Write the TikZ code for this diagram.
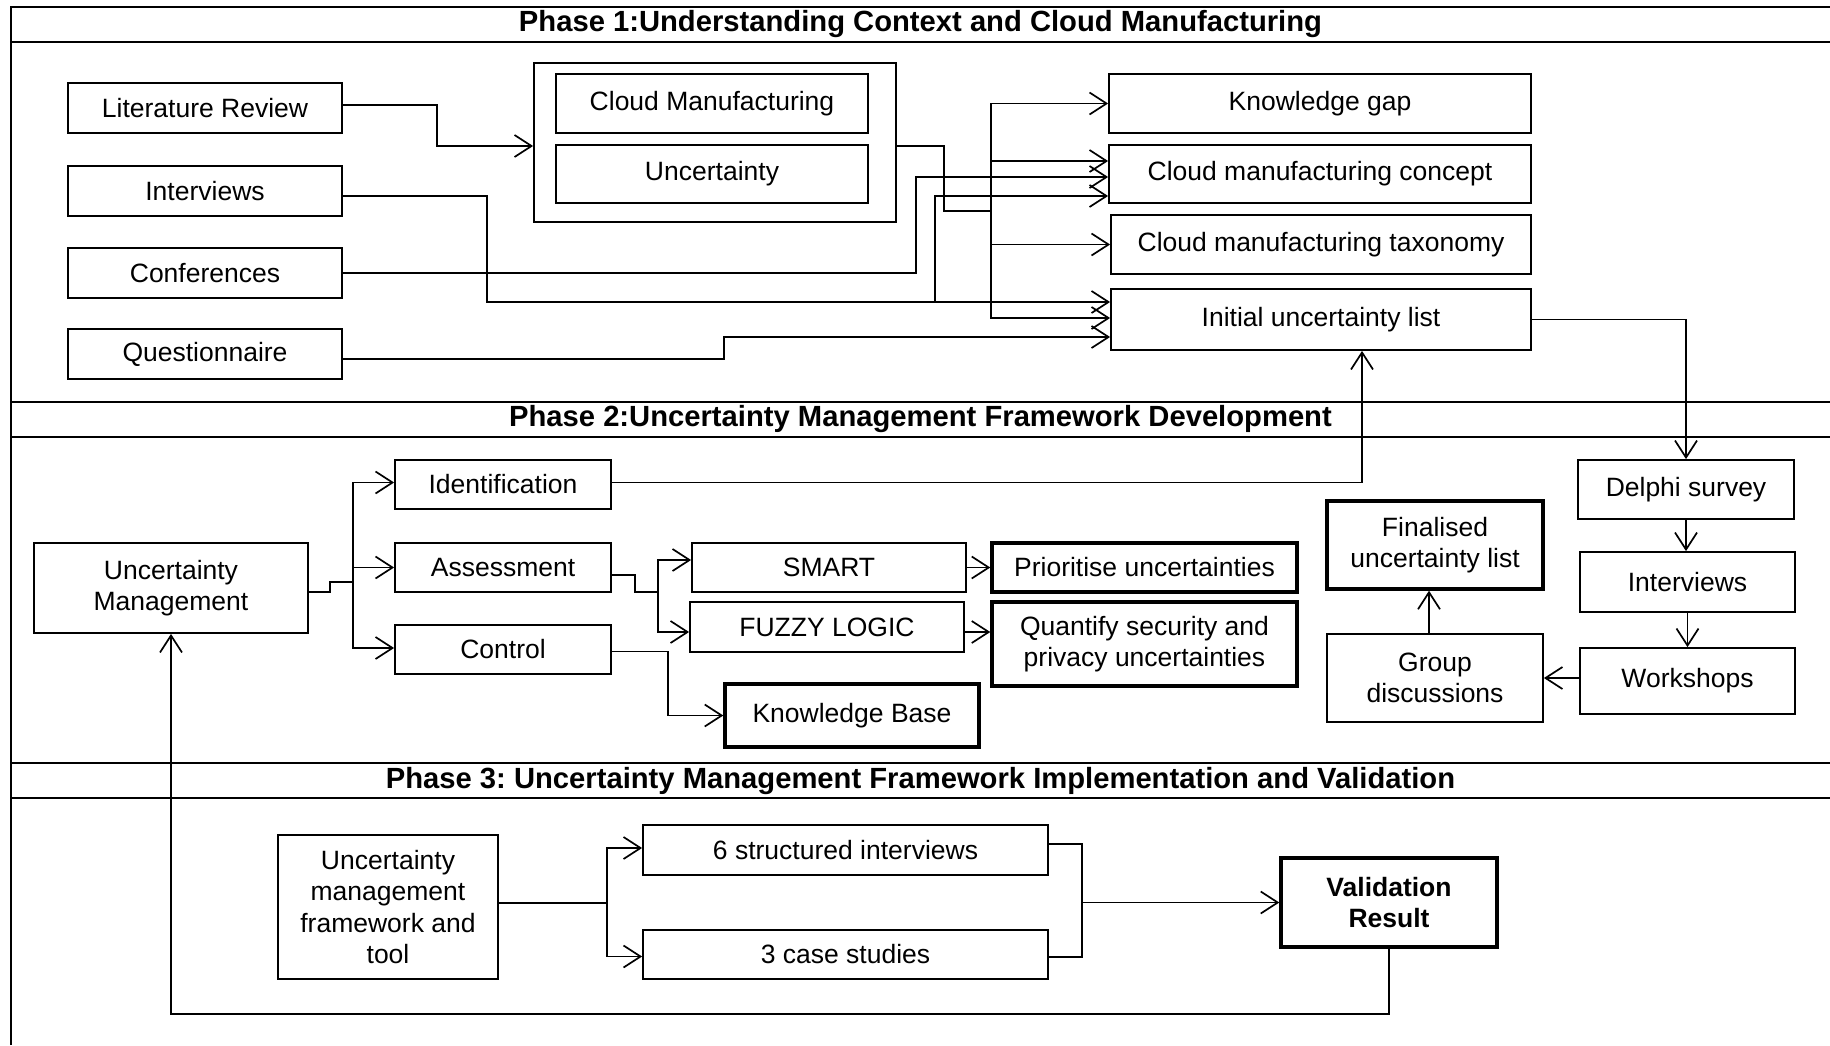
\documentclass[tikz,border=0pt]{standalone}
\usepackage{fontspec}
\setmainfont{Liberation Sans}
\frenchspacing
\usetikzlibrary{arrows.meta,calc}
\tikzset{
  box/.style={draw=black,line width=0.9pt,rectangle,inner sep=0pt,align=center,font=\fontsize{13.25}{15.7}\selectfont},
  heavy/.style={line width=1.7pt},
  arr/.style={-{Straight Barb[length=8.5pt,width=11pt]}},
  conn/.style={line width=0.85pt},
  title/.style={font=\fontsize{14.6}{17}\selectfont\bfseries,inner sep=0pt},
  frame/.style={line width=1.1pt}
}
\newcommand{\bx}[7][]{%
  \node[box,#1,minimum width={(#5-#3)*0.5pt},minimum height={(#6-#4)*0.5pt}] (#2) at ({(#3+#5)/2},{(#4+#6)/2}) {#7};}
\begin{document}
\begin{tikzpicture}[x=0.5pt,y=-0.5pt]
\useasboundingbox (0,0) rectangle (1830,1045);
\fill[white] (0,0) rectangle (1830,1045);
% frame
\draw[frame] (11,1045) -- (11,7) -- (1830,7);
\foreach \yy in {42,402,437,763,798} \draw[frame] (11,\yy) -- (1830,\yy);
\node[title] (t1) at (920.5,24.5) {Phase 1:Understanding Context and Cloud Manufacturing};
\node[title] (t2) at (920.5,419.5) {Phase 2:Uncertainty Management Framework Development};
\node[title] (t3) at (920.5,780.5) {Phase 3: Uncertainty Management Framework Implementation and Validation};
% phase 1 nodes
\bx{lit}{68}{83}{342}{133}{Literature Review}
\bx{int1}{68}{166}{342}{216}{Interviews}
\bx{conf}{68}{248}{342}{298}{Conferences}
\bx{quest}{68}{329}{342}{379}{Questionnaire}
\bx{grp}{534}{63}{896}{222}{}
\bx{cm}{556}{74}{868}{133}{Cloud Manufacturing}
\bx{unc}{556}{145}{868}{203}{Uncertainty}
\bx{kg}{1109}{74}{1531}{133}{Knowledge gap}
\bx{cmc}{1109}{145}{1531}{203}{Cloud manufacturing concept}
\bx{cmt}{1111}{215}{1531}{274}{Cloud manufacturing taxonomy}
\bx{iul}{1111}{289}{1531}{350}{Initial uncertainty list}
% phase 2 nodes
\bx{um}{34}{543}{308}{633}{Uncertainty\\Management}
\bx{ident}{395}{460}{611}{509}{Identification}
\bx{assess}{395}{543}{611}{592}{Assessment}
\bx{ctrl}{395}{625}{611}{674}{Control}
\bx{smart}{692}{543}{966}{592}{SMART}
\bx{fuzzy}{690}{602}{964}{652}{FUZZY LOGIC}
\bx[heavy]{kb}{725}{684}{979}{747}{Knowledge Base}
\bx[heavy]{prio}{992}{543}{1297}{592}{Prioritise uncertainties}
\bx[heavy]{quant}{992}{602}{1297}{686}{Quantify security and\\privacy uncertainties}
\bx[heavy]{final}{1327}{501}{1543}{589}{Finalised\\uncertainty list}
\bx{group}{1327}{634}{1543}{722}{Group\\discussions}
\bx{delphi}{1578}{460}{1794}{519}{Delphi survey}
\bx{int2}{1580}{552}{1795}{612}{Interviews}
\bx{work}{1580}{648}{1795}{714}{Workshops}
% phase 3 nodes
\bx{umft}{278}{835}{498}{979}{Uncertainty\\management\\framework and\\tool}
\bx{six}{643}{825}{1048}{875}{6 structured interviews}
\bx{three}{643}{930}{1048}{979}{3 case studies}
\bx[heavy]{valid}{1281}{858}{1497}{947}{\textbf{Validation}\\\textbf{Result}}
% phase 1 connectors
\draw[conn,arr] ($(lit.east)+(0,-3)$) -| ($(grp.west)+(-96,3.5)$) -- ($(grp.west)+(0,3.5)$);
\coordinate (bus1) at (991,211);
\draw[conn] ($(grp.east)+(0,3.5)$) -| (944,211) -- (bus1);
\draw[conn,arr] (bus1) |- (kg.west);
\draw[conn,arr] (bus1) |- ($(cmc.west)+(0,-13)$);
\draw[conn,arr] (bus1) |- (cmt.west);
\draw[conn,arr] (bus1) |- ($(iul.west)+(0,-1.5)$);
\draw[conn,arr] (conf.east) -| (916,177) -- ($(cmc.west)+(0,3)$);
\draw[conn,arr] ($(int1.east)+(0,5)$) -| (487,302) -- ($(iul.west)+(0,-17.5)$);
\coordinate (j1) at (935,302);
\draw[conn,arr] (j1) |- ($(cmc.west)+(0,22)$);
\draw[conn,arr] ($(quest.east)+(0,5)$) -| (724,337) -- ($(iul.west)+(0,17.5)$);
\draw[conn,arr] (iul.east) -| (delphi.north);
\draw[conn,arr] ($(ident.east)+(0,-2)$) -| ($(iul.south)+(41,0)$);
% phase 2 connectors
\coordinate (bus2) at (353,582);
\draw[conn] ($(um.east)+(0,4)$) -| (330,582) -- (bus2);
\draw[conn,arr] (bus2) |- ($(ident.west)+(0,-2)$);
\draw[conn,arr] (bus2) |- (assess.west);
\draw[conn,arr] (bus2) |- ($(ctrl.west)+(0,-1.5)$);
\coordinate (bus3) at (658,592);
\draw[conn] ($(assess.east)+(0,7.5)$) -| (635,592) -- (bus3);
\draw[conn,arr] (bus3) |- ($(smart.west)+(0,-7.5)$);
\draw[conn,arr] (bus3) |- ($(fuzzy.west)+(0,5)$);
\draw[conn,arr] (smart.east) -- (smart.east -| prio.west);
\draw[conn,arr] ($(fuzzy.east)+(0,5)$) -- ($(fuzzy.east -| quant.west)+(0,5)$);
\draw[conn,arr] ($(ctrl.east)+(0,2)$) -| (668,715.5) -- (kb.west);
\draw[conn,arr] (delphi.south) -- (delphi.south |- int2.north);
\draw[conn,arr] (int2.south) -- (int2.south |- work.north);
\draw[conn,arr] (work.west |- group.east) -- (group.east);
\draw[conn,arr] ($(group.north)+(-6,0)$) -- ($(final.south)+(-6,0)$);
% phase 3 connectors
\coordinate (bus4) at (607,903);
\draw[conn] ($(umft.east)+(0,-4)$) -- (bus4);
\draw[conn,arr] (bus4) |- ($(six.west)+(0,-2)$);
\draw[conn,arr] (bus4) |- ($(three.west)+(0,2)$);
\draw[conn] ($(six.east)+(0,-6)$) -| (1082,957) -- ($(three.east)+(0,2.5)$);
\coordinate (j3) at (1082,902.5);
\draw[conn,arr] (j3) -- (valid.west);
\draw[conn,arr] (valid.south) -- ++(0,65) -| (um.south);
\end{tikzpicture}
\end{document}
